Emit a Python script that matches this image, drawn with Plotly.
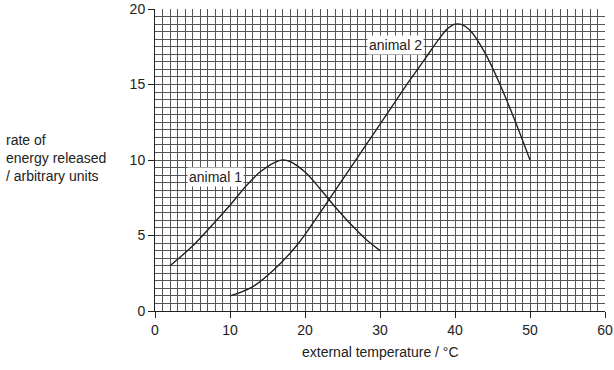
import plotly.graph_objects as go

# animal 1 curve (external temperature / °C, rate of energy released)
a1_temp = [2, 5, 8, 10, 12, 14, 16, 17, 18, 20, 22, 24, 26, 28, 30]
a1_rate = [3.0, 4.3, 5.9, 7.0, 8.2, 9.2, 9.85, 10.0, 9.9, 9.2, 8.1, 6.9, 5.8, 4.8, 4.0]

# animal 2 curve
a2_temp = [10, 13, 16, 19, 22, 25, 28, 31, 34, 36, 38, 39, 40, 41, 42, 44, 46, 48, 50]
a2_rate = [1.0, 1.6, 2.8, 4.4, 6.5, 8.7, 10.9, 13.1, 15.3, 16.7, 18.1, 18.7, 19.0, 18.95, 18.6, 17.1, 15.0, 12.6, 10.0]

x_ticks = [0, 10, 20, 30, 40, 50, 60]
y_ticks = [0, 5, 10, 15, 20]

FONT = "Liberation Sans, Arial, sans-serif"
GRID = "#555555"
INK = "#222222"

fig = go.Figure()
fig.add_trace(go.Scatter(x=a1_temp, y=a1_rate, mode="lines",
                         line=dict(color=INK, width=1.4, shape="spline", smoothing=1.0),
                         showlegend=False, hoverinfo="skip"))
fig.add_trace(go.Scatter(x=a2_temp, y=a2_rate, mode="lines",
                         line=dict(color=INK, width=1.4, shape="spline", smoothing=1.0),
                         showlegend=False, hoverinfo="skip"))

fig.add_annotation(x=8.0, y=8.85, text="animal 1", showarrow=False,
                   bgcolor="white", font=dict(family=FONT, size=14, color=INK),
                   borderpad=1)
fig.add_annotation(x=32.0, y=17.6, text="animal 2", showarrow=False,
                   bgcolor="white", font=dict(family=FONT, size=14, color=INK),
                   borderpad=1)

fig.add_annotation(xref="paper", yref="paper", x=-0.335, y=0.505,
                   xanchor="left", yanchor="middle", align="left", showarrow=False,
                   text="rate of<br>energy released<br>/ arbitrary units",
                   font=dict(family=FONT, size=14, color=INK))

fig.add_annotation(xref="paper", yref="paper", x=0.5, y=-0.136,
                   xanchor="center", yanchor="middle", showarrow=False,
                   text="external temperature / °C",
                   font=dict(family=FONT, size=14, color=INK))

fig.update_xaxes(range=[0, 60], tickmode="array", tickvals=x_ticks,
                 ticks="outside", ticklen=6, tickcolor=INK, tickwidth=1,
                 showline=True, linecolor=INK, linewidth=1,
                 showgrid=True, gridcolor=GRID, gridwidth=1,
                 minor=dict(dtick=1, showgrid=True, gridcolor=GRID, gridwidth=1),
                 zeroline=False, automargin=False,
                 tickfont=dict(family=FONT, size=14, color=INK))
fig.update_yaxes(range=[0, 20], tickmode="array", tickvals=y_ticks,
                 ticks="outside", ticklen=6, tickcolor=INK, tickwidth=1,
                 showline=True, linecolor=INK, linewidth=1,
                 showgrid=True, gridcolor=GRID, gridwidth=1,
                 minor=dict(dtick=0.5, showgrid=True, gridcolor=GRID, gridwidth=1),
                 zeroline=False, automargin=False,
                 tickfont=dict(family=FONT, size=14, color=INK))

fig.update_layout(width=614, height=370,
                  margin=dict(l=155, r=9, t=9, b=59),
                  plot_bgcolor="white", paper_bgcolor="white")

fig.write_html("out.html", config={"displayModeBar": False},
               post_script="document.body.style.margin='0';document.body.style.overflow='hidden';")
